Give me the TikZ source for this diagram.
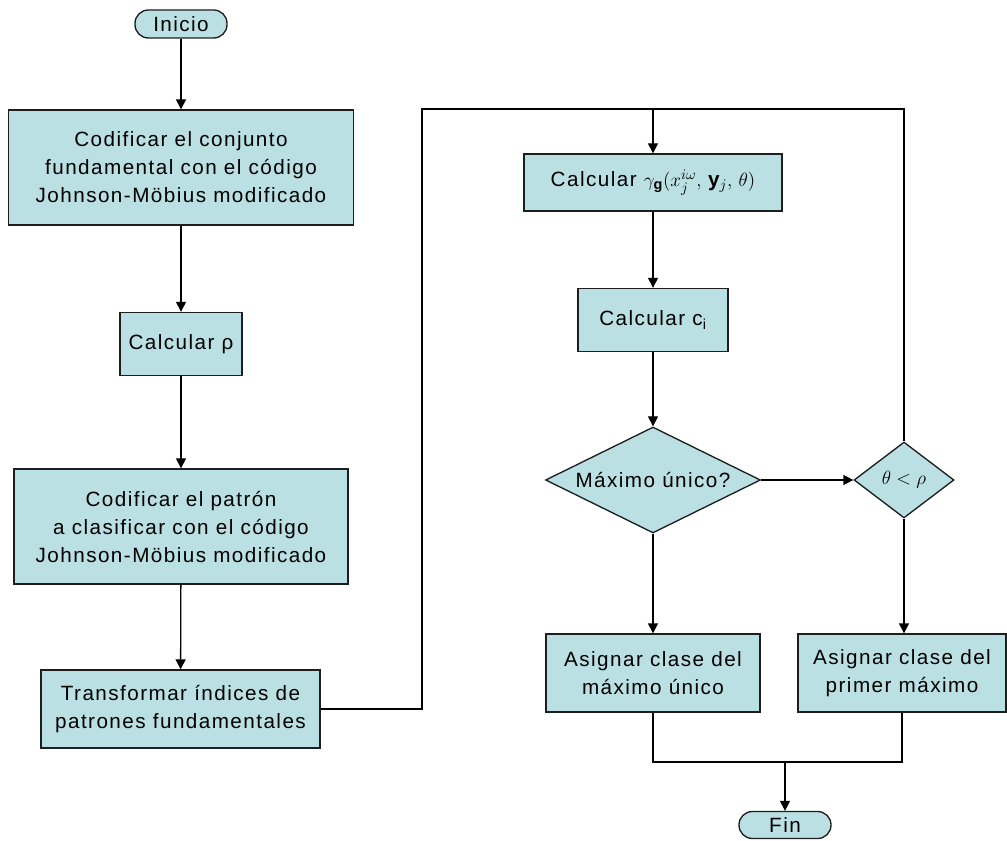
\documentclass[tikz,border=0pt]{standalone}
\usepackage{amsmath}
\usepackage{amssymb}
\usepackage{fontspec}
\setmainfont{Liberation Sans}[LetterSpace=7]
\usepackage{tikz}
\usetikzlibrary{arrows.meta,shapes.geometric}
\definecolor{boxfill}{RGB}{186,224,227}
\definecolor{boxline}{RGB}{30,30,30}

\begin{document}
\begin{tikzpicture}[x=0.75pt, y=-0.75pt,
        every node/.style={font=\fontsize{15.5}{21}\selectfont},
        proc/.style={rectangle, draw=boxline, line width=1pt, fill=boxfill, align=center, inner sep=0pt},
        term/.style={rectangle, rounded corners=10pt, draw=boxline, line width=1pt, fill=boxfill, inner sep=0pt},
        decis/.style={diamond, draw=boxline, line width=1pt, fill=boxfill, inner sep=0pt},
        line/.style={draw=black, line width=1pt},
        flow/.style={line, -{Triangle[length=7.5pt, width=7.5pt]}}]
        \useasboundingbox (0,0) rectangle (1007,841);

        % left column
        \node[term, minimum width=69pt, minimum height=21pt] (inicio) at (181,24) {Inicio};
        \node[proc, minimum width=258.75pt, minimum height=86.25pt] (cod1) at (181,167.5) {Codificar el conjunto\\ fundamental con el código\\ Johnson-Möbius modificado};
        \node[proc, minimum width=91.5pt, minimum height=47.25pt] (rho) at (181,344) {Calcular ρ};
        \node[proc, minimum width=250.5pt, minimum height=86.25pt] (cod2) at (181,526.5) {Codificar el patrón\\ a clasificar con el código\\ Johnson-Möbius modificado};
        \node[proc, minimum width=209.25pt, minimum height=58.5pt] (transf) at (180.5,709) {Transformar índices de\\ patrones fundamentales};

        % right column
        \node[proc, minimum width=193.5pt, minimum height=42.75pt] (gamma) at (653,182.5) {Calcular $\gamma_{\mathbf{g}}(x_j^{i\omega},\, \mathbf{y}_j,\, \theta)$};
        \node[proc, minimum width=112.5pt, minimum height=47.25pt] (ci) at (653,320) {Calcular c\textsubscript{i}};
        \node[decis, minimum width=161.25pt, minimum height=79.5pt] (maxu) at (653,480) {\makebox[0pt]{Máximo único?}};
        \node[decis, minimum width=75pt, minimum height=57pt] (theta) at (904,480) {\makebox[0pt]{$\theta < \rho$}};
        \node[proc, minimum width=160.5pt, minimum height=58.5pt] (asig1) at (653,673) {Asignar clase del\\ máximo único};
        \node[proc, minimum width=156pt, minimum height=58.5pt] (asig2) at (902,673) {Asignar clase del\\ primer máximo};
        \node[term, minimum width=69pt, minimum height=20.25pt] (fin) at (785,825) {Fin};

        \coordinate (tl) at (422,109);
        \coordinate (tm) at (653,109);
        \coordinate (tr) at (904,109);
        \coordinate (mrg) at (785,762);

        \draw[flow] (inicio) -- (cod1);
        \draw[flow] (cod1) -- (rho);
        \draw[flow] (rho) -- (cod2);
        \draw[flow] (cod2) -- (transf);
        \draw[line] (transf.east) -| (tl) -- (tr) -- (theta.north);
        \draw[flow] (tm) -- (gamma);
        \draw[flow] (gamma) -- (ci);
        \draw[flow] (ci) -- (maxu);
        \draw[flow] (maxu) -- (theta);
        \draw[flow] (maxu) -- (asig1);
        \draw[flow] (theta.south) -- (theta.south |- asig2.north);
        \draw[line] (asig1.south) |- (mrg) -| (asig2.south);
        \draw[flow] (mrg) -- (fin);
    \end{tikzpicture}
\end{document}
